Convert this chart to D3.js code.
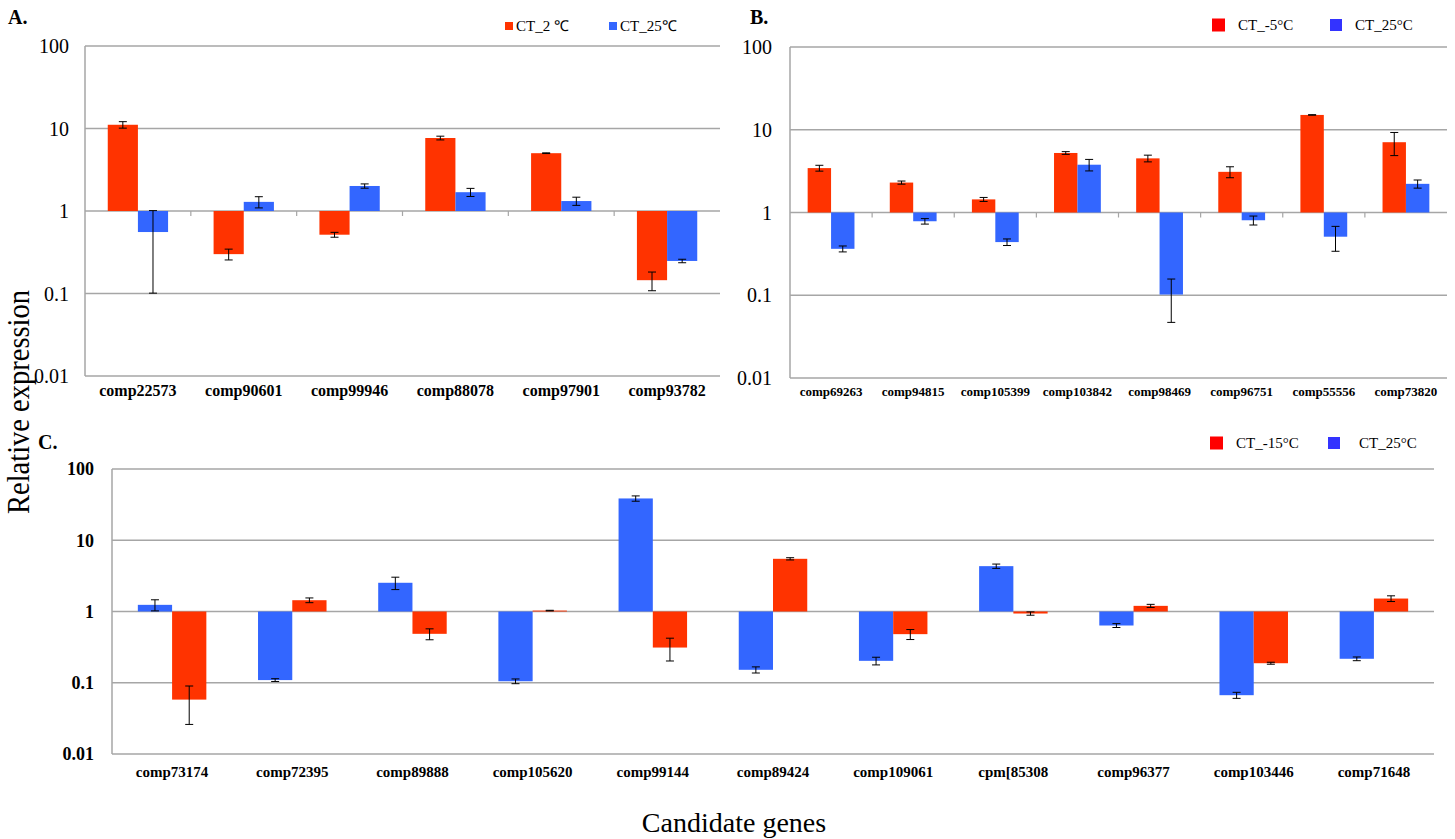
<!DOCTYPE html>
<html lang="en">
<head>
<meta charset="UTF-8">
<title>Relative expression of candidate genes</title>
<style>
  body { margin: 0; background: #fff; }
  svg text { font-family: "Liberation Serif", "Times New Roman", serif; fill: #000; }
</style>
</head>
<body>
<svg id="chart" width="1455" height="839"></svg>
<script src="https://d3js.org/d3.v7.min.js"></script>
<script>
// ---- data ----
var yTicks = [100, 10, 1, 0.1, 0.01];
var yTickLabels = ["100", "10", "1", "0.1", "0.01"];

// panel A
var genesA = ["comp22573", "comp90601", "comp99946", "comp88078", "comp97901", "comp93782"];
var a2C     = [11.1, 0.30, 0.516, 7.67, 5.02, 0.145];
var a2CErr  = [1.0, 0.045, 0.035, 0.4, 0.05, 0.037];
var a25C    = [0.556, 1.29, 2.01, 1.69, 1.32, 0.248];
var a25CErr = [0.455, 0.2, 0.12, 0.19, 0.15, 0.012];

// panel B
var genesB = ["comp69263", "comp94815", "comp105399", "comp103842", "comp98469", "comp96751", "comp55556", "comp73820"];
var bm5C    = [3.44, 2.30, 1.44, 5.24, 4.51, 3.10, 15.1, 7.07];
var bm5CErr = [0.28, 0.1, 0.08, 0.2, 0.42, 0.47, 0.1, 2.2];
var b25C    = [0.364, 0.784, 0.439, 3.78, 0.102, 0.806, 0.51, 2.22];
var b25CErr = [0.03, 0.06, 0.04, 0.6, 0.055, 0.1, 0.17, 0.25];

// panel C (blue drawn first in each group)
var genesC = ["comp73174", "comp72395", "comp89888", "comp105620", "comp99144", "comp89424", "comp109061", "cpm[85308", "comp96377", "comp103446", "comp71648"];
var c25C     = [1.24, 0.109, 2.53, 0.105, 38.6, 0.152, 0.203, 4.33, 0.636, 0.0669, 0.217];
var c25CErr  = [0.22, 0.005, 0.5, 0.008, 3.3, 0.015, 0.025, 0.3, 0.04, 0.0065, 0.013];
var cm15C    = [0.058, 1.44, 0.486, 1.03, 0.312, 5.49, 0.481, 0.937, 1.20, 0.188, 1.52];
var cm15CErr = [0.032, 0.11, 0.085, 0.01, 0.11, 0.2, 0.077, 0.05, 0.06, 0.006, 0.14];

var barRed = "#ff3300", barBlue = "#3366ff";
var gridColor = "#a6a6a6";

var svg = d3.select("#chart");

function drawPanel(p) {
  var g = svg.append("g");
  var y = d3.scaleLog().domain([0.01, 100]).range([p.bottom, p.top]);
  var x = d3.scaleBand().domain(p.genes).range([p.left, p.right]).padding(0);
  var bw = x.bandwidth() * 0.285;

  // gridlines
  g.selectAll(".grid").data(yTicks).enter().append("line")
    .attr("x1", p.left).attr("x2", p.right)
    .attr("y1", function(d) { return y(d); }).attr("y2", function(d) { return y(d); })
    .attr("stroke", gridColor).attr("stroke-width", 1.5);

  // left axis line
  g.append("line")
    .attr("x1", p.left).attr("x2", p.left)
    .attr("y1", p.top).attr("y2", p.bottom)
    .attr("stroke", gridColor).attr("stroke-width", 1.5);

  // y tick labels
  g.selectAll(".ylab").data(yTicks).enter().append("text")
    .attr("x", p.left - p.labelGap)
    .attr("y", function(d) { return y(d); })
    .attr("dy", "0.35em")
    .attr("text-anchor", "end")
    .attr("font-size", p.yFont)
    .attr("font-weight", p.yBold ? "bold" : "normal")
    .text(function(d, i) { return yTickLabels[i]; });

  // ticks on the 1-line between groups
  if (p.midTicks) {
    g.selectAll(".mt").data(p.genes.slice(1)).enter().append("line")
      .attr("x1", function(d) { return x(d); }).attr("x2", function(d) { return x(d); })
      .attr("y1", y(1)).attr("y2", y(1) + 5)
      .attr("stroke", gridColor).attr("stroke-width", 1.2);
  }

  // bars + error bars
  p.series.forEach(function(s, si) {
    var rows = p.genes.map(function(gn, i) { return { gene: gn, v: s.values[i], e: s.err[i] }; });
    var xOff = function(d) { return x(d.gene) + x.bandwidth() / 2 - bw + si * bw; };
    g.selectAll(null).data(rows).enter().append("rect")
      .attr("x", xOff)
      .attr("y", function(d) { return Math.min(y(d.v), y(1)); })
      .attr("width", bw)
      .attr("height", function(d) { return Math.abs(y(d.v) - y(1)); })
      .attr("fill", s.color);

    var eb = g.selectAll(null).data(rows).enter().append("g")
      .attr("transform", function(d) { return "translate(" + (xOff(d) + bw / 2) + ",0)"; });
    eb.append("line")
      .attr("y1", function(d) { return y(Math.max(d.v - d.e, 0.011)); })
      .attr("y2", function(d) { return y(d.v + d.e); })
      .attr("stroke", "#000").attr("stroke-width", 1);
    [-1, 1].forEach(function(sign) {
      eb.append("line")
        .attr("x1", -4).attr("x2", 4)
        .attr("y1", function(d) { return y(Math.max(d.v + sign * d.e, 0.011)); })
        .attr("y2", function(d) { return y(Math.max(d.v + sign * d.e, 0.011)); })
        .attr("stroke", "#000").attr("stroke-width", 1);
    });
  });

  // category labels
  g.selectAll(".xlab").data(p.genes).enter().append("text")
    .attr("x", function(d) { return x(d) + x.bandwidth() / 2; })
    .attr("y", p.bottom + p.xLabOff)
    .attr("text-anchor", "middle")
    .attr("font-weight", "bold")
    .attr("font-size", p.xFont)
    .text(function(d) { return d; });

  // panel letter
  g.append("text").attr("x", p.letter[0]).attr("y", p.letter[1])
    .attr("font-size", 20).attr("font-weight", "bold").text(p.letter[2]);

  // legend
  p.legend.forEach(function(l) {
    g.append("rect").attr("x", l.x).attr("y", l.y - l.sq / 2)
      .attr("width", l.sq).attr("height", l.sq).attr("fill", l.color);
    g.append("text").attr("x", l.tx).attr("y", l.y).attr("dy", "0.35em")
      .attr("font-size", 15).text(l.label);
  });
}

drawPanel({
  genes: genesA, left: 85, right: 720, top: 46, bottom: 376,
  series: [{ values: a2C, err: a2CErr, color: barRed }, { values: a25C, err: a25CErr, color: barBlue }],
  labelGap: 16, yFont: 20, yBold: false, xFont: 16, xLabOff: 20, midTicks: true,
  letter: [8, 24, "A."],
  legend: [
    { x: 505, tx: 516, y: 26, sq: 8, color: barRed, label: "CT_2 \u2103" },
    { x: 609, tx: 620, y: 26, sq: 8, color: barBlue, label: "CT_25\u2103" }
  ]
});

drawPanel({
  genes: genesB, left: 790, right: 1447, top: 47, bottom: 378,
  series: [{ values: bm5C, err: bm5CErr, color: barRed }, { values: b25C, err: b25CErr, color: barBlue }],
  labelGap: 18, yFont: 20, yBold: false, xFont: 13, xLabOff: 18, midTicks: true,
  letter: [750, 24, "B."],
  legend: [
    { x: 1212, tx: 1238, y: 25, sq: 13, color: "#ff0000", label: "CT_-5\u00b0C" },
    { x: 1330, tx: 1355, y: 25, sq: 12, color: "#3333ff", label: "CT_25\u00b0C" }
  ]
});

drawPanel({
  genes: genesC, left: 112, right: 1434, top: 469, bottom: 754,
  series: [{ values: c25C, err: c25CErr, color: barBlue }, { values: cm15C, err: cm15CErr, color: barRed }],
  labelGap: 18, yFont: 18, yBold: true, xFont: 15, xLabOff: 23, midTicks: false,
  letter: [38, 449, "C."],
  legend: [
    { x: 1210, tx: 1236, y: 443, sq: 13, color: "#ff0000", label: "CT_-15\u00b0C" },
    { x: 1328, tx: 1359, y: 443, sq: 12, color: "#3333ff", label: "CT_25\u00b0C" }
  ]
});

// shared axis titles
svg.append("text")
  .attr("transform", "translate(29,402) rotate(-90)")
  .attr("text-anchor", "middle")
  .attr("font-size", 31)
  .attr("textLength", 224).attr("lengthAdjust", "spacingAndGlyphs")
  .text("Relative expression");

svg.append("text")
  .attr("x", 734).attr("y", 832)
  .attr("text-anchor", "middle")
  .attr("font-size", 28)
  .text("Candidate genes");
</script>
</body>
</html>
